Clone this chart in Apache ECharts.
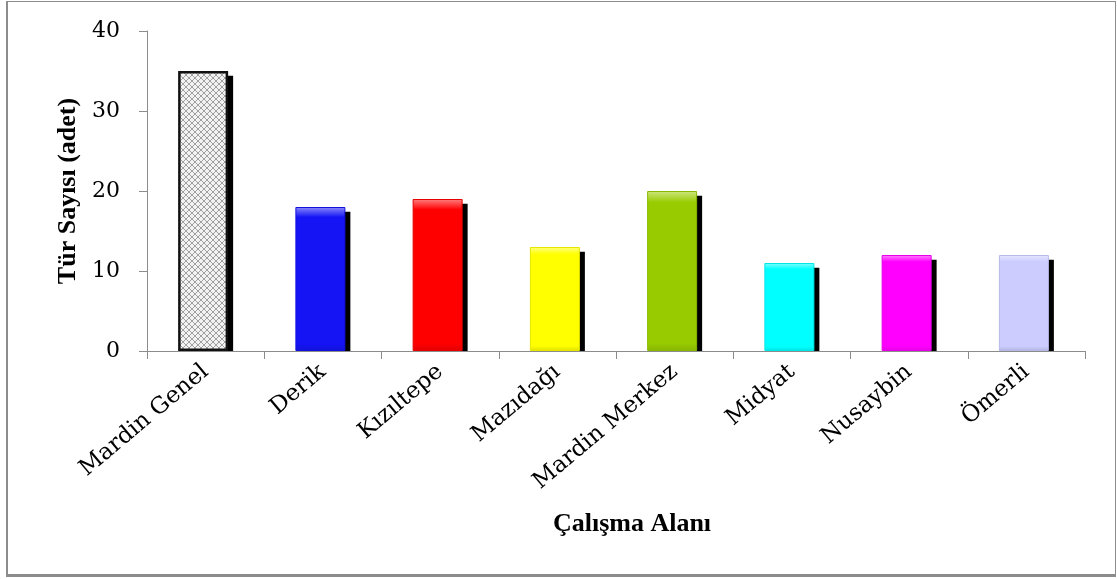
<!DOCTYPE html>
<html>
<head>
<meta charset="utf-8">
<script src="https://cdn.jsdelivr.net/npm/echarts@6/dist/echarts.min.js"></script>
<style>
    html, body { margin: 0; padding: 0; background: #fff; }
    #frame {
        position: absolute; left: 6px; top: 1px; width: 1107px; height: 572px;
        border: 2px solid #8c8c8c; border-bottom-width: 3px; border-top-width: 1px; border-right-width: 1px;
    }
    #chart { position: absolute; left: 0; top: 0; width: 1117px; height: 579px; }
</style>
</head>
<body>
<div id="frame"></div>
<div id="chart"></div>
<script>
const categories = ['Mardin Genel', 'Derik', 'Kızıltepe', 'Mazıdağı', 'Mardin Merkez', 'Midyat', 'Nusaybin', 'Ömerli'];
const values = [35, 18, 19, 13, 20, 11, 12, 12];
const barColors = ['#e0e0e0', '#1414f5', '#ff0000', '#ffff00', '#99cc00', '#00ffff', '#ff00ff', '#ccccff'];
const yTicks = [0, 10, 20, 30, 40];

// crosshatch pattern for the first bar
const makePattern = () => {
    const c = document.createElement('canvas');
    c.width = 6; c.height = 6;
    const ctx = c.getContext('2d');
    ctx.fillStyle = '#f2f2f2';
    ctx.fillRect(0, 0, 6, 6);
    ctx.strokeStyle = '#a0a0a0';
    ctx.lineWidth = 1;
    ctx.beginPath();
    ctx.moveTo(0, 3); ctx.lineTo(3, 0); ctx.lineTo(6, 3); ctx.lineTo(3, 6); ctx.closePath();
    ctx.stroke();
    return c;
};

const shade = (hex, f) => {
    const n = parseInt(hex.slice(1), 16);
    let r = (n >> 16) & 255, g = (n >> 8) & 255, b = n & 255;
    const mix = v => f > 0 ? Math.round(v + (255 - v) * f) : Math.round(v * (1 + f));
    return `rgb(${mix(r)},${mix(g)},${mix(b)})`;
};

const bevel = (hex) => new echarts.graphic.LinearGradient(0, 0, 0, 1, [
    { offset: 0, color: shade(hex, 0.5) },
    { offset: 0.06, color: shade(hex, 0.08) },
    { offset: 0.07, color: hex },
    { offset: 0.95, color: hex },
    { offset: 1, color: shade(hex, -0.12) }
]);

const mainData = values.map((v, i) => ({
    value: v,
    itemStyle: i === 0
        ? { color: { image: makePattern(), repeat: 'repeat' }, borderColor: '#111', borderWidth: 2.5 }
        : { color: bevel(barColors[i]), borderColor: shade(barColors[i], -0.1), borderWidth: 1 }
}));
const shadowData = values.map(v => v - 0.6);

const serif = '"Liberation Serif", "Times New Roman", serif';
const wideSerif = '"DejaVu Serif", serif';
const chart = echarts.init(document.getElementById('chart'));
chart.setOption({
    animation: false,
    grid: { left: 147, right: 32, top: 31, bottom: 228 },
    xAxis: {
        type: 'category',
        data: categories,
        name: 'Çalışma Alanı',
        nameLocation: 'middle',
        nameGap: 160,
        nameTextStyle: { fontFamily: serif, fontWeight: 'bold', fontSize: 26, color: '#000', padding: [0, 0, 0, 32] },
        axisLine: { lineStyle: { color: '#8c8c8c', width: 1 } },
        axisTick: { show: true, length: 8, lineStyle: { color: '#8c8c8c' } },
        axisLabel: { rotate: 40, margin: 18, fontFamily: wideSerif, fontSize: 23, color: '#000', interval: 0 }
    },
    yAxis: {
        type: 'value',
        min: yTicks[0],
        max: yTicks[yTicks.length - 1],
        interval: 10,
        name: 'Tür Sayısı (adet)',
        nameLocation: 'middle',
        nameGap: 66,
        nameRotate: 90,
        nameTextStyle: { fontFamily: serif, fontWeight: 'bold', fontSize: 26, color: '#000' },
        splitLine: { show: false },
        axisLine: { show: true, lineStyle: { color: '#8c8c8c', width: 1 } },
        axisTick: { show: true, length: 8, lineStyle: { color: '#8c8c8c' } },
        axisLabel: { margin: 27, fontFamily: wideSerif, fontSize: 22, color: '#000' }
    },
    series: [
        {
            type: 'bar',
            data: mainData,
            barWidth: 50,
            barGap: '-90%',
            z: 3
        },
        {
            type: 'bar',
            data: shadowData,
            barWidth: 50,
            itemStyle: { color: '#000' },
            z: 2
        }
    ]
});
</script>
</body>
</html>
